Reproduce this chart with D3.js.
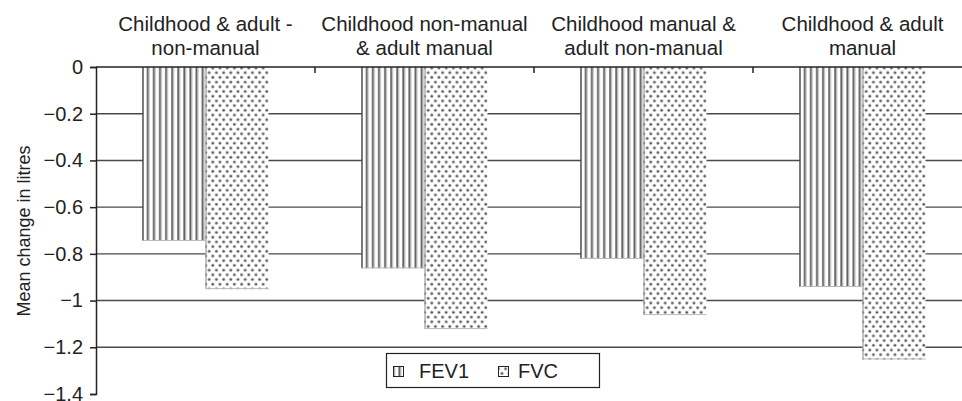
<!DOCTYPE html>
<html><head><meta charset="utf-8">
<script src="https://cdn.jsdelivr.net/npm/d3@7"></script>
<style>body{margin:0;background:#fff}svg{display:block}text{font-family:"Liberation Sans",Arial,sans-serif;fill:#222}</style>
</head><body><svg id="c" width="962" height="401"></svg>
<script>
const categories = [["Childhood & adult -","non-manual"],["Childhood non-manual","& adult manual"],["Childhood manual &","adult non-manual"],["Childhood & adult","manual"]];
const series = ["FEV1","FVC"];
const fev1 = [-0.745, -0.862, -0.822, -0.942];
const fvc = [-0.951, -1.122, -1.062, -1.252];
const yTicks = [0,-0.2,-0.4,-0.6,-0.8,-1,-1.2,-1.4];
const yTitle = "Mean change in litres";

const svg = d3.select("#c");
const L=96, R=972, T=67, B=394;
const catIdx = categories.map((d,i)=>i);
const x0 = d3.scaleBand().domain(catIdx).range([L,R]).paddingInner(0).paddingOuter(0);
const x1 = d3.scaleBand().domain(series).range([0,x0.bandwidth()]).paddingInner(0).paddingOuter(0.738);
const y = d3.scaleLinear().domain([-1.4,0]).range([B,T]);

const defs = svg.append("defs");
const ps = defs.append("pattern").attr("id","stripes").attr("patternUnits","userSpaceOnUse").attr("width",6.1).attr("height",10);
ps.append("rect").attr("width",6.1).attr("height",10).attr("fill","#fff");
ps.append("rect").attr("x",2).attr("width",2).attr("height",10).attr("fill","#5e5e5e");
ps.append("rect").attr("x",4).attr("width",1).attr("height",10).attr("fill","#c8c8c8");
const pd = defs.append("pattern").attr("id","dots").attr("patternUnits","userSpaceOnUse").attr("width",7.2).attr("height",9.4);
pd.append("rect").attr("width",7.2).attr("height",9.4).attr("fill","#fff");
[[1.6,2.2],[5.2,6.9]].forEach(([cx,cy])=>{
  pd.append("circle").attr("cx",cx).attr("cy",cy).attr("r",1.7).attr("fill","#bdbdbd");
  pd.append("circle").attr("cx",cx).attr("cy",cy).attr("r",1.1).attr("fill","#555");
});
const fills = {FEV1:"url(#stripes)", FVC:"url(#dots)"};

// gridlines
svg.append("g").selectAll("line").data(yTicks.filter(d=>d!==0 && d!==-1.4)).join("line")
  .attr("x1",L).attr("x2",R).attr("y1",d=>y(d)).attr("y2",d=>y(d))
  .attr("stroke","#4a4a4a").attr("stroke-width",1.4);

// bars
const data = catIdx.map(i=>({i, vals:[{k:"FEV1",v:fev1[i]},{k:"FVC",v:fvc[i]}]}));
const g = svg.append("g").selectAll("g").data(data).join("g").attr("transform",d=>`translate(${x0(d.i)},0)`);
g.selectAll("rect").data(d=>d.vals).join("rect")
  .attr("x",d=>x1(d.k)).attr("width",x1.bandwidth())
  .attr("y",y(0)).attr("height",d=>y(d.v)-y(0))
  .attr("fill",d=>fills[d.k]);
g.selectAll("line.edge").data(d=>d.vals).join("line").attr("class","edge")
  .attr("x1",d=>x1(d.k)+0.5).attr("x2",d=>x1(d.k)+0.5)
  .attr("y1",y(0)).attr("y2",d=>y(d.v))
  .attr("stroke",d=>d.k==="FEV1"?"#222":"#888").attr("stroke-width",1);
g.selectAll("line.bot").data(d=>d.vals).join("line").attr("class","bot")
  .attr("x1",d=>x1(d.k)).attr("x2",d=>x1(d.k)+x1.bandwidth())
  .attr("y1",d=>y(d.v)-0.5).attr("y2",d=>y(d.v)-0.5)
  .attr("stroke","#bbb").attr("stroke-width",1);

// y axis
const yAxis = d3.axisLeft(y).tickValues(yTicks).tickSize(6).tickPadding(7).tickFormat(d3.format(""));
const ya = svg.append("g").attr("transform",`translate(${L},0)`).call(yAxis);
ya.select(".domain").attr("stroke","#222").attr("stroke-width",1.5);
ya.selectAll(".tick line").attr("stroke","#222").attr("stroke-width",1.5);
ya.selectAll(".tick text").style("font-size","20px").attr("fill","#222");

// top axis line at zero with boundary ticks
svg.append("line").attr("x1",L).attr("x2",R).attr("y1",y(0)).attr("y2",y(0)).attr("stroke","#222").attr("stroke-width",1.5);
svg.append("g").selectAll("line").data(catIdx.slice(1)).join("line")
  .attr("x1",d=>x0(d)).attr("x2",d=>x0(d)).attr("y1",y(0)).attr("y2",y(0)+6)
  .attr("stroke","#222").attr("stroke-width",1.5);

// category labels
svg.append("g").selectAll("text").data(catIdx).join("text")
  .attr("text-anchor","middle").style("font-size","20.5px")
  .each(function(d){
    const t=d3.select(this), cx=x0(d)+x0.bandwidth()/2;
    t.append("tspan").attr("x",cx).attr("y",31).text(categories[d][0]);
    t.append("tspan").attr("x",cx).attr("y",55).text(categories[d][1]);
  });

// y title
svg.append("text").attr("transform","translate(30,231) rotate(-90)").attr("text-anchor","middle")
  .style("font-size","18px").text(yTitle);

// legend
const lg = svg.append("g");
lg.append("rect").attr("x",386.5).attr("y",353.5).attr("width",213).attr("height",34).attr("fill","#fff").attr("stroke","#222").attr("stroke-width",1.2);
const lx = [393, 498];
series.forEach((s,i)=>{
  lg.append("rect").attr("x",lx[i]+0.5).attr("y",366.5).attr("width",10).attr("height",10).attr("fill",fills[s]).attr("stroke","#222").attr("stroke-width",1);
  lg.append("text").attr("x",lx[i]+(i===0?26:20)).attr("y",378).style("font-size","20px").text(s);
});
</script></body></html>
